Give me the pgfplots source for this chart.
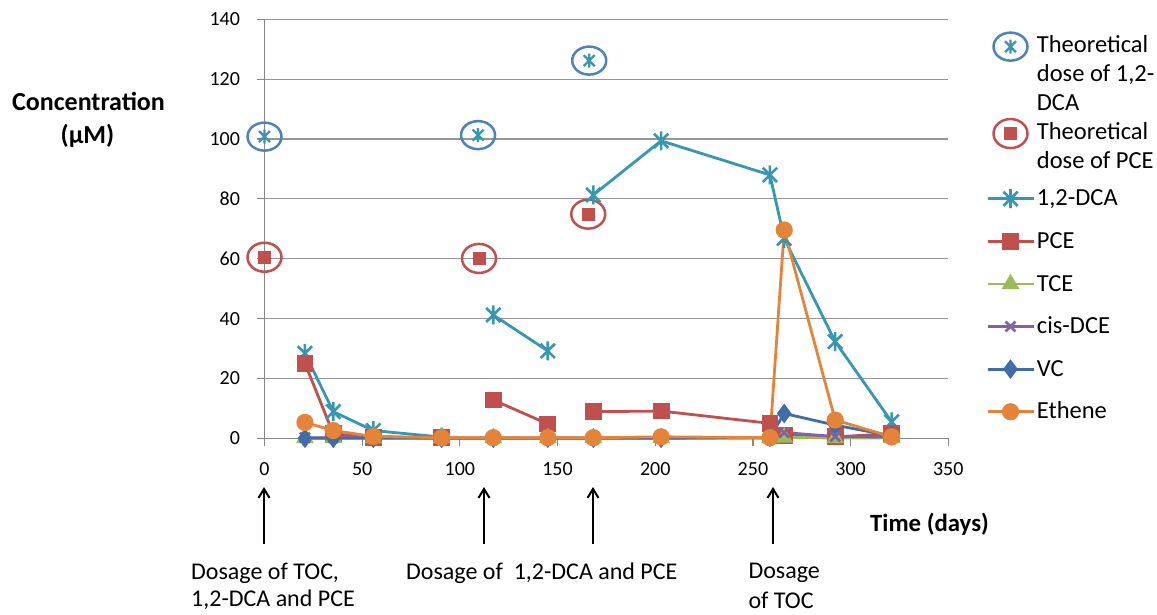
\documentclass[border=0pt]{standalone}
\usepackage{fontspec}
\setmainfont{Carlito}
\usepackage{pgfplots}
\pgfplotsset{compat=1.18}
\usetikzlibrary{arrows.meta}
\definecolor{dca}{RGB}{57,150,177}
\definecolor{pce}{RGB}{192,80,77}
\definecolor{tce}{RGB}{155,187,89}
\definecolor{cis}{RGB}{128,100,162}
\definecolor{vc}{RGB}{64,108,168}
\definecolor{eth}{RGB}{228,132,58}
\definecolor{theoblue}{RGB}{79,129,189}
\definecolor{axisgray}{RGB}{134,134,134}
\definecolor{gridgray}{RGB}{150,150,150}
\pgfdeclareplotmark{xstar}{%
  \pgfpathmoveto{\pgfqpoint{-0.75\pgfplotmarksize}{-0.75\pgfplotmarksize}}%
  \pgfpathlineto{\pgfqpoint{0.75\pgfplotmarksize}{0.75\pgfplotmarksize}}%
  \pgfpathmoveto{\pgfqpoint{-0.75\pgfplotmarksize}{0.75\pgfplotmarksize}}%
  \pgfpathlineto{\pgfqpoint{0.75\pgfplotmarksize}{-0.75\pgfplotmarksize}}%
  \pgfpathmoveto{\pgfqpoint{0pt}{-\pgfplotmarksize}}%
  \pgfpathlineto{\pgfqpoint{0pt}{\pgfplotmarksize}}%
  \pgfusepathqstroke}
\pgfdeclareplotmark{theodca}{%
  \pgfsetlinewidth{2.5pt}\pgfsetstrokecolor{theoblue}%
  \pgfpathellipse{\pgfpointorigin}{\pgfqpoint{17pt}{0pt}}{\pgfqpoint{0pt}{14pt}}%
  \pgfusepathqstroke
  \pgfsetstrokecolor{dca}\pgfsetlinewidth{2.3pt}%
  \pgfpathmoveto{\pgfqpoint{-5.5pt}{-5.5pt}}\pgfpathlineto{\pgfqpoint{5.5pt}{5.5pt}}%
  \pgfpathmoveto{\pgfqpoint{-5.5pt}{5.5pt}}\pgfpathlineto{\pgfqpoint{5.5pt}{-5.5pt}}%
  \pgfpathmoveto{\pgfqpoint{0pt}{-7pt}}\pgfpathlineto{\pgfqpoint{0pt}{7pt}}%
  \pgfusepathqstroke}
\pgfdeclareplotmark{theopce}{%
  \pgfsetlinewidth{2.5pt}\pgfsetstrokecolor{pce}%
  \pgfpathellipse{\pgfpointorigin}{\pgfqpoint{17pt}{0pt}}{\pgfqpoint{0pt}{14.5pt}}%
  \pgfusepathqstroke
  \pgfsetfillcolor{pce}%
  \pgfpathrectangle{\pgfqpoint{-6.5pt}{-6.5pt}}{\pgfqpoint{13pt}{13pt}}%
  \pgfusepathqfill}
\pgfplotsset{
  legtheodca/.style={legend image code/.code={\path (0pt,-41.4pt) (0pt,41.4pt); \draw[only marks, mark=theodca] plot coordinates {(23pt,6.5pt)};}},
  legtheopce/.style={legend image code/.code={\path (0pt,-45.1pt) (0pt,45.1pt); \draw[only marks, mark=theopce] plot coordinates {(23pt,6.5pt)};}},
}
\newcommand{\legtxt}[1]{\smash{\begin{tabular}[t]{@{}l@{}}#1\end{tabular}}}
\begin{document}
\begin{tikzpicture}
\useasboundingbox (0pt,0pt) rectangle (1157pt,-615pt);
\begin{axis}[
  at={(264.5pt,-438.3pt)}, anchor=south west,
  scale only axis, width=683.8pt, height=419pt,
  xmin=0, xmax=350, ymin=0, ymax=140,
  xtick={0,50,...,350}, ytick={0,20,...,140},
  axis x line=bottom, axis y line=left,
  axis line style={-, draw=axisgray, line width=1.2pt},
  tick style={draw=axisgray, line width=1.2pt},
  tick align=outside, major tick length=8pt,
  ymajorgrids, major grid style={draw=gridgray, line width=1.2pt},
  clip=false,
  unbounded coords=jump,
  /pgf/number format/assume math mode=true,
  ticklabel style={font=\fontsize{20}{24}\selectfont, text=black},
  xticklabel style={yshift=-13pt},
  yticklabel style={xshift=-13pt},
  legend style={at={(1.055,1.019)}, anchor=north west, draw=none, fill=none,
    font=\fontsize{24.5}{29}\selectfont, cells={anchor=west, inner xsep=2pt, inner ysep=0pt},
    row sep=0pt, inner sep=0pt},
  legend image code/.code={\path (0pt,-19.9pt) (0pt,19.9pt); \draw[mark repeat=2,mark phase=2,#1] plot coordinates {(0pt,7.9pt) (23pt,7.9pt) (46pt,7.9pt)};},
]
\addplot[only marks, mark=theodca, legtheodca]
  coordinates {(0,100.8) (109.3,101.3) (166.2,126.2)};
\addlegendentry{\legtxt{Theoretical\\dose of 1,2-\\DCA}}
\addplot[only marks, mark=theopce, legtheopce]
  coordinates {(0,60.5) (109.8,60.1) (165.7,74.9)};
\addlegendentry{\legtxt{Theoretical\\dose of PCE}}
\addplot[color=dca, line width=2.8pt, mark=xstar, mark size=9.5pt, mark options={line width=2.6pt}]
  coordinates {(20.7,28.4) (35.2,8.9) (55.7,2.6) (90.7,0.4) (110,nan) (117.1,41.2) (145,29.2) (166,nan)
  (168.3,81.3) (203,99.4) (258.7,88.0) (266,66.8) (292.1,32.3) (321,5.5)};
\addlegendentry{\legtxt{1,2-DCA}}
\addplot[color=pce, line width=2.8pt, mark=square*, mark size=7pt]
  coordinates {(20.7,25.1) (35.2,1.5) (55.7,0.3) (90.7,0.2) (110,nan) (117.1,12.8) (145,4.8) (166,nan)
  (168.3,8.9) (203,9.1) (258.7,5.0) (266,1.0) (292.1,0.5) (321,1.5)};
\addlegendentry{\legtxt{PCE}}
\addplot[color=tce, line width=2.8pt, mark=triangle*, mark size=7.5pt]
  coordinates {(20.7,0.1) (35.2,0.1) (55.7,0.1) (90.7,0.1) (117.1,0.1) (145,0.1) (168.3,0.1)
  (203,0.1) (258.7,0.1) (266,0.3) (292.1,0.1) (321,0.1)};
\addlegendentry{\legtxt{TCE}}
\addplot[color=cis, line width=2.8pt, mark=x, mark size=7pt, mark options={line width=2.6pt}]
  coordinates {(20.7,0.2) (35.2,0.2) (55.7,0.6) (90.7,0.1) (117.1,0.1) (145,0.1) (168.3,0.1)
  (203,0.1) (258.7,0.1) (266,1.9) (292.1,0.6) (321,0.4)};
\addlegendentry{\legtxt{cis-DCE}}
\addplot[color=vc, line width=2.8pt, mark=diamond*, mark size=7.5pt]
  coordinates {(20.7,0) (35.2,0) (55.7,0) (90.7,0) (117.1,0) (145,0) (168.3,0)
  (203,0) (258.7,0.3) (266,8.3) (292.1,4.4) (321,0.8)};
\addlegendentry{\legtxt{VC}}
\addplot[color=eth, line width=2.8pt, mark=*, mark size=7.2pt]
  coordinates {(20.7,5.3) (35.2,2.6) (55.7,0.6) (90.7,0.2) (117.1,0.2) (145,0.2) (168.3,0.2)
  (203,0.5) (258.7,0.2) (266,69.6) (292.1,6.1) (321,0.5)};
\addlegendentry{\legtxt{Ethene}}
\end{axis}
\node[anchor=base, font=\bfseries\fontsize{26}{30}\selectfont] at (88.5pt,-110.7pt) {Concentration};
\node[anchor=base, font=\bfseries\fontsize{26}{30}\selectfont] at (87.5pt,-143.3pt) {(μM)};
\node[anchor=base west, inner sep=0pt, font=\bfseries\fontsize{24.8}{29}\selectfont] at (870pt,-531.7pt) {Time (days)};
\begin{scope}[font=\fontsize{24}{29}\selectfont]
\node[anchor=base west, inner sep=0pt] at (191pt,-579.5pt) {Dosage of TOC,};
\node[anchor=base west, inner sep=0pt] at (191pt,-606.7pt) {1,2-DCA and PCE};
\node[anchor=base west, inner sep=0pt] at (406pt,-579.5pt) {Dosage of \ 1,2-DCA and PCE};
\node[anchor=base west, inner sep=0pt] at (748.3pt,-578.3pt) {Dosage};
\node[anchor=base west, inner sep=0pt] at (748.3pt,-608pt) {of TOC};
\end{scope}
\foreach \xx in {264,484,593,773}
  \draw[line width=2pt, -{Straight Barb[length=9pt,width=11pt]}] (\xx pt,-543.5pt) -- (\xx pt,-487pt);
\end{tikzpicture}
\end{document}
